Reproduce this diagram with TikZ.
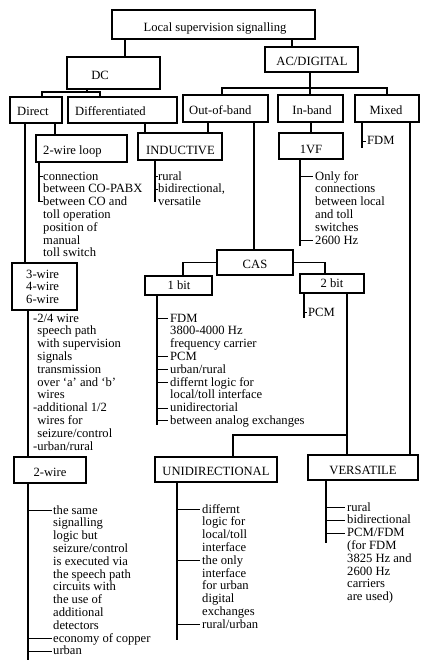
\documentclass[tikz,border=0pt]{standalone}
\usepackage{fontspec}
\setmainfont{Liberation Serif}
\newcommand\fsz{\fontsize{12.6}{12.8}\selectfont}
\begin{document}
\begin{tikzpicture}[x=1pt,y=-1pt,
  box/.style={draw, line width=1.2pt, inner sep=0pt, rectangle},
  ln/.style={line width=1.2pt},
  tk/.style={line width=1pt},
  lbl/.style={inner sep=0pt, font=\fsz, anchor=base west},
  clbl/.style={inner sep=0pt, font=\fsz, anchor=base},
  lst/.style={inner sep=0pt, font=\fsz, align=left, anchor=base west}]
\useasboundingbox[fill=white] (0,0) rectangle (427,660);

% ---------- boxes ----------
\node[box, minimum width=203, minimum height=29] (root)   at (213.5,24.5) {};
\node[box, minimum width=93,  minimum height=32] (dc)     at (113.5,73) {};
\node[box, minimum width=93,  minimum height=25] (ac)     at (311.5,59.5) {};
\node[box, minimum width=52,  minimum height=26] (direct) at (36,110) {};
\node[box, minimum width=109, minimum height=26] (diff)   at (122.5,110) {};
\node[box, minimum width=85,  minimum height=27] (oob)    at (225.5,108.5) {};
\node[box, minimum width=65,  minimum height=27] (inb)    at (310.5,108.5) {};
\node[box, minimum width=64,  minimum height=27] (mixed)  at (387,108.5) {};
\node[box, minimum width=91,  minimum height=27] (wl)     at (81.5,148.5) {};
\node[box, minimum width=84,  minimum height=27] (ind)    at (180,146.5) {};
\node[box, minimum width=64,  minimum height=26] (vf)     at (311,146) {};
\node[box, minimum width=65,  minimum height=47] (w3)     at (44.5,286.5) {};
\node[box, minimum width=76,  minimum height=25] (cas)    at (255,262.5) {};
\node[box, minimum width=67,  minimum height=19] (b1)     at (178.5,285.5) {};
\node[box, minimum width=64,  minimum height=19] (b2)     at (332,283.5) {};
\node[box, minimum width=72,  minimum height=26] (w2)     at (50,470) {};
\node[box, minimum width=122, minimum height=25] (uni)    at (216,469.5) {};
\node[box, minimum width=110, minimum height=25] (vers)   at (363,467.5) {};

% ---------- box labels ----------
\node[clbl] (troot)   at (215,32)  {Local supervision signalling};
\node[clbl] (tdc)     at (100,80)  {DC};
\node[clbl] (tac)     at (312,66)  {AC/DIGITAL};
\node[lbl]  (tdirect) at (17,116)  {Direct};
\node[lbl]  (tdiff)   at (75,116)  {Differentiated};
\node[lbl]  (toob)    at (189,115) {Out-of-band};
\node[clbl] (tinb)    at (312,115) {In-band};
\node[clbl] (tmixed)  at (386,115) {Mixed};
\node[lbl]  (twl)     at (43,155)  {2-wire loop};
\node[lbl]  (tind)    at (146,155) {INDUCTIVE};
\node[clbl] (tvf)     at (311,154) {1VF};
\node[lst]  (tw3)     at (26,303.6)  {3-wire\\4-wire\\6-wire};
\node[clbl] (tcas)    at (255,268) {CAS};
\node[clbl] (tb1)     at (179,289) {1 bit};
\node[clbl] (tb2)     at (332,287) {2 bit};
\node[clbl] (tw2)     at (50,476)  {2-wire};
\node[clbl] (tuni)    at (216,475) {UNIDIRECTIONAL};
\node[clbl] (tvers)   at (363,474) {VERSATILE};

% ---------- lists (anchor = baseline of the last line) ----------
\node[lst] (lwl) at (43,256.8) {connection\\between CO-PABX\\between CO and\\toll operation\\position of\\manual\\toll switch};
\node[lst] (lind) at (158,205.6) {rural\\bidirectional,\\versatile};
\node[lst] (lvf) at (315,244) {Only for\\connections\\between local\\and toll\\switches\\2600 Hz};
\node[lst] (lfdm) at (367,145) {FDM};
\node[lst] (lw3) at (33,450) {-2/4 wire\\\hphantom{-}speech path\\\hphantom{-}with supervision\\\hphantom{-}signals\\\hphantom{-}transmission\\\hphantom{-}over `a' and `b'\\\hphantom{-}wires\\-additional 1/2\\\hphantom{-}wires for\\\hphantom{-}seizure/control\\-urban/rural};
\node[lst] (lb1) at (170,424.4) {FDM\\3800-4000 Hz\\frequency carrier\\PCM\\urban/rural\\differnt logic for\\local/toll interface\\unidirectorial\\between analog exchanges};
\node[lst] (lpcm) at (308,316) {PCM};
\node[lst] (lw2) at (53,654.8) {the same\\signalling\\logic but\\seizure/control\\is executed via\\the speech path\\circuits with\\the use of\\additional\\detectors\\economy of copper\\urban};
\node[lst] (luni) at (202,628.2) {differnt\\logic for\\local/toll\\interface\\the only\\interface\\for urban\\digital\\exchanges\\rural/urban};
\node[lst] (lvers) at (347,600.6) {rural\\bidirectional\\PCM/FDM\\(for FDM\\3825 Hz and\\2600 Hz\\carriers\\are used)};

% ---------- helper coordinates ----------
\coordinate (xRL) at (125,0);
\coordinate (xRR) at (292,0);
\coordinate (dcj) at (87,92);
\coordinate (dcL) at (42,92);
\coordinate (dcR) at (100,92);
\coordinate (acj) at (310,88);
\coordinate (acL) at (222,88);
\coordinate (acR) at (387,88);
\coordinate (x55) at (55,0);
\coordinate (x145) at (145,0);
\coordinate (x208) at (208,0);
\coordinate (x254) at (254,0);
\coordinate (x311) at (311,0);
\coordinate (x410) at (410,0);
\coordinate (x25) at (25,0);
\coordinate (x28) at (28,0);
\coordinate (casL) at (183,0);
\coordinate (casR) at (325,0);
\coordinate (x347) at (347,0);
\coordinate (brj) at (347,435);
\coordinate (x233) at (233,0);
\coordinate (bot) at (28,660);
\coordinate (ewl) at (39,202);
\coordinate (eind) at (155,202);
\coordinate (evf) at (300,246);
\coordinate (efdm) at (362,148);
\coordinate (eb1) at (157,425);
\coordinate (epcm) at (304,318);
\coordinate (euni) at (177,640);
\coordinate (evers) at (326,543);

% ---------- connectors ----------
\draw[ln] (root.south -| xRL) -- (dc.north -| xRL);
\draw[ln] (root.south -| xRR) -- (ac.north -| xRR);
\draw[ln] (dc.south -| dcj) -- (dcj);
\draw[ln] (direct.north -| dcL) -- (dcL) -- (dcR) -- (diff.north -| dcR);
\draw[ln] (ac.south -| acj) -- (acj);
\draw[ln] (oob.north -| acL) -- (acL) -- (acR) -- (mixed.north -| acR);
\draw[ln] (acj) -- (inb.north -| acj);
\draw[ln] (diff.south -| x55) -- (wl.north -| x55);
\draw[ln] (diff.south -| x145) -- (ind.north -| x145);
\draw[ln] (oob.south -| x208) -- (ind.north -| x208);
\draw[ln] (oob.south -| x254) -- (cas.north -| x254);
\draw[ln] (inb.south -| x311) -- (vf.north -| x311);
\draw[ln] (mixed.south -| x410) -- (vers.north -| x410);
\draw[ln] (direct.south -| x25) -- (w3.north -| x25);
\draw[ln] (w3.south -| x28) -- (w2.north -| x28);
\draw[ln] (w2.south -| x28) -- (bot);
\draw[ln] (cas.west) -| (b1.north -| casL);
\draw[ln] (cas.east) -| (b2.north -| casR);
\draw[ln] (b2.south -| x347) -- (vers.north -| x347);
\draw[ln] (brj) -| (uni.north -| x233);

% ---------- list brackets ----------
\draw[ln] (wl.south -| ewl) -- (ewl);
\foreach \yy in {176.5,202} \draw[tk] (39,\yy) -- ++(4,0);
\draw[ln] (ind.south -| eind) -- (eind);
\foreach \yy in {176.5,189.3} \draw[tk] (155,\yy) -- ++(3,0);
\draw[ln] (vf.south -| evf) -- (evf);
\foreach \yy in {176.5,240.5} \draw[tk] (300,\yy) -- ++(13,0);
\draw[ln] (mixed.south -| efdm) -- (efdm);
\draw[tk] (362,141.5) -- ++(4,0);
\draw[ln] (b1.south -| eb1) -- (eb1);
\foreach \yy in {318.5,356.9,369.7,382.5,408.1,420.9} \draw[tk] (157,\yy) -- ++(11,0);
\draw[ln] (b2.south -| epcm) -- (epcm);
\draw[tk] (304,312.5) -- ++(3,0);
\foreach \yy in {510.5,638.5,651.3} \draw[tk] (28,\yy) -- ++(24,0);
\draw[ln] (uni.south -| euni) -- (euni);
\foreach \yy in {509.5,560.7,624.7} \draw[tk] (177,\yy) -- ++(23,0);
\draw[ln] (vers.south -| evers) -- (evers);
\foreach \yy in {507.5,520.3,533.1} \draw[tk] (326,\yy) -- ++(19,0);
\end{tikzpicture}
\end{document}
